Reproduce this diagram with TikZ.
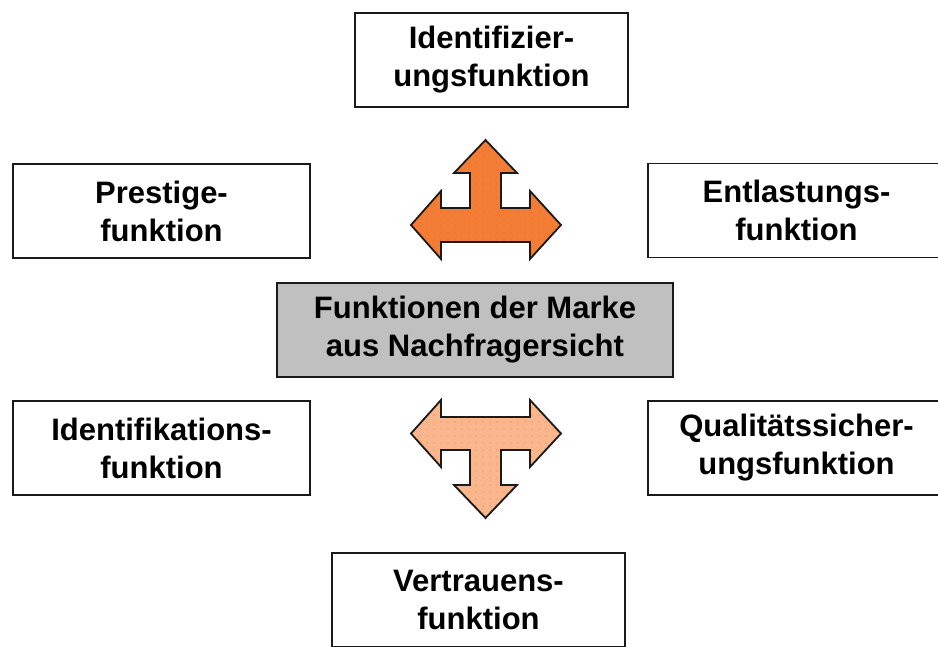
\documentclass[tikz,border=0pt]{standalone}
\usepackage{fontspec}
\setmainfont{Liberation Sans}
\usetikzlibrary{patterns.meta}

\definecolor{boxline}{HTML}{1A1A1A}
\definecolor{centerfill}{HTML}{C0C0C0}
\definecolor{arrowdark}{HTML}{F47D35}
\definecolor{arrowdarkdot}{HTML}{DA6A2C}
\definecolor{arrowlight}{HTML}{FAB68C}
\definecolor{arrowlightdot}{HTML}{F09A66}

\begin{document}
\begin{tikzpicture}[x=1pt, y=-1pt,
  funcbox/.style={draw=boxline, line width=1.8pt, fill=white, align=center,
    inner sep=0pt, minimum width=297pt, minimum height=94pt,
    font=\fontsize{31}{38}\selectfont\bfseries},
  mainbox/.style={funcbox, fill=centerfill, minimum width=396pt},
  outline/.style={postaction={draw=boxline, line width=1.8pt, line join=miter}},
  darkarrow/.style={fill=arrowdark,
    postaction={pattern={Dots[distance=7pt, radius=0.7pt]}, pattern color=arrowdarkdot},
    outline},
  lightarrow/.style={fill=arrowlight,
    postaction={pattern={Dots[distance=7pt, radius=0.8pt]}, pattern color=arrowlightdot},
    outline}
]
\useasboundingbox (0,0) rectangle (938,646);
\clip (0,0) rectangle (938,646);

% central box
\node[mainbox] (marke) at (475,330) {Funktionen der Marke\\aus Nachfragersicht};

% surrounding function boxes
\node[funcbox, minimum width=273pt] (identifizierung) at (491.5,60) {Identifizier-\\ungsfunktion};
\node[funcbox] (prestige) at (161.5,211) {Prestige-\\funktion};
\node[funcbox] (entlastung) at (796.5,210.5) {Entlastungs-\\funktion};
\node[funcbox] (identifikation) at (161.5,448) {Identifikations-\\funktion};
\node[funcbox] (qualitaet) at (796.5,448) {Qualitätssicher-\\ungsfunktion};
\node[funcbox, minimum width=293pt] (vertrauen) at (478.5,600) {Vertrauens-\\funktion};

% upper three-way arrow (up, left, right)
\path[darkarrow]
  (485.5,140) -- (517,173) -- (501,173) -- (501,208) -- (530,208) -- (530,191)
  -- (561,225) -- (530,259) -- (530,242) -- (441,242) -- (441,259) -- (411,225)
  -- (441,191) -- (441,208) -- (470,208) -- (470,173) -- (454,173) -- cycle;

% lower three-way arrow (left, right, down)
\path[lightarrow]
  (411,433.5) -- (441,400) -- (441,417) -- (530,417) -- (530,400) -- (561,433.5)
  -- (530,467) -- (530,450) -- (501,450) -- (501,485) -- (517,485) -- (485.5,518)
  -- (454,485) -- (470,485) -- (470,450) -- (441,450) -- (441,467) -- cycle;
\end{tikzpicture}
\end{document}
